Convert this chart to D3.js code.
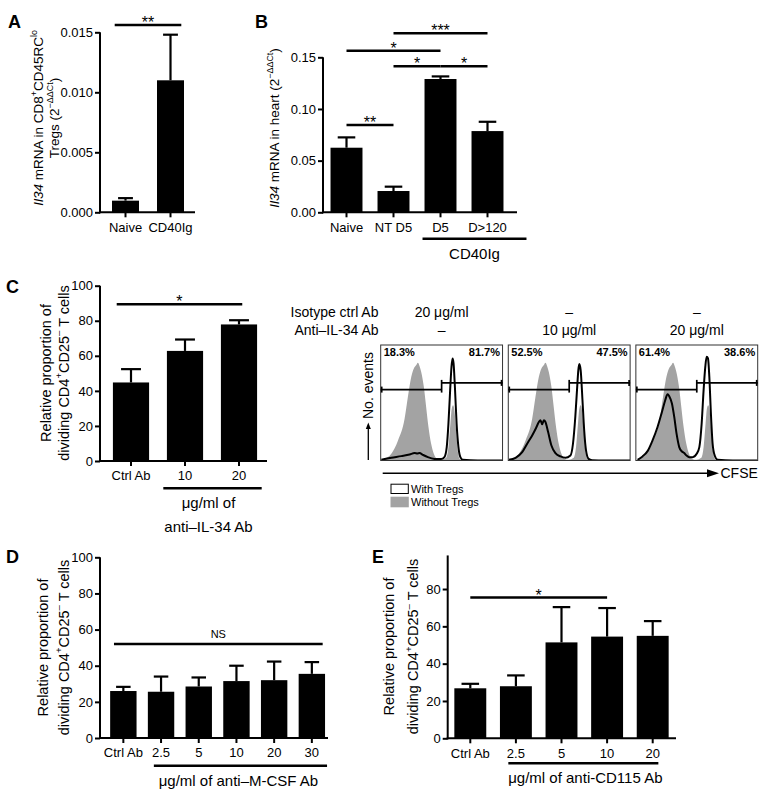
<!DOCTYPE html>
<html><head><meta charset="utf-8">
<script src="https://cdn.jsdelivr.net/npm/d3@7"></script>
<style>
html,body{margin:0;padding:0;background:#fff;}
svg{display:block;font-family:"Liberation Sans",Arial,Helvetica,sans-serif;}
</style></head><body>
<svg id="fig" width="772" height="805"></svg>
<script>
// ================= DATA =================
// Panel A
const aCategories = ["Naive", "CD40Ig"];
const aValues = [0.00097, 0.0110];
const aErrors = [0.00021, 0.0038];
const aTicks = [0, 0.005, 0.010, 0.015];
const aSig = [{from: "Naive", to: "CD40Ig", level: 0.0156, label: "**"}];

// Panel B
const bCategories = ["Naive", "NT D5", "D5", "D>120"];
const bValues = [0.0625, 0.0206, 0.129, 0.0786];
const bErrors = [0.0100, 0.0042, 0.0025, 0.0090];
const bTicks = [0, 0.05, 0.10, 0.15];
const bSig = [
  {from: "NT D5", to: "D>120", level: 0.1732, label: "***"},
  {from: "Naive", to: "D5", level: 0.1564, label: "*"},
  {from: "NT D5", to: "D5", level: 0.1413, label: "*"},
  {from: "D5", to: "D>120", level: 0.1413, label: "*"},
  {from: "Naive", to: "NT D5", level: 0.0845, label: "**"}
];
const bGroup = {from: "D5", to: "D>120", lines: ["CD40Ig"]};

// Panel C (bars)
const cCategories = ["Ctrl Ab", "10", "20"];
const cValues = [44.8, 62.8, 77.9];
const cErrors = [7.6, 6.5, 2.4];
const cTicks = [0, 20, 40, 60, 80, 100];
const cSig = [{from: "Ctrl Ab", to: "20", level: 89.4, label: "*"}];
const cGroup = {from: "10", to: "20", lines: ["\u03bcg/ml of", "anti\u2013IL-34 Ab"]};

// Panel C (flow histograms) — CFSE channel (0-100) vs. relative no. of events (0-100)
const isotypeRow = ["20 \u03bcg/ml", "\u2013", "\u2013"];
const antiIL34Row = ["\u2013", "10 \u03bcg/ml", "20 \u03bcg/ml"];
const pctDivided = ["18.3%", "52.5%", "61.4%"];
const pctUndivided = ["81.7%", "47.5%", "38.6%"];
const withoutTregs = [[0,0],[3.3,1.4],[8.7,5.8],[14.2,17.4],[19.6,36.2],[22.3,55],[25.1,72.5],[27.2,79.7],[29.2,82.6],[30.5,84.6],[31.9,81.7],[33.2,76.8],[35.4,63.8],[37.3,46.4],[39.2,29],[41.4,14.5],[43.6,5.8],[46.3,1.4],[49.6,0.6],[53.7,2.3],[55.6,11.6],[57.2,31.9],[58.3,44.9],[59.4,47.8],[60.5,43.5],[61.9,26.1],[63.2,8.7],[64.9,1.4],[67.3,0],[100,0]];
const withTregsCtrl = [[0.5,0.6],[8.7,2.3],[16.9,3.8],[23.7,5.2],[27.8,6.4],[30,6.1],[31.9,6.4],[34.6,4.9],[38.7,2.9],[44.1,1.4],[49.6,1.2],[52.3,2.9],[54.2,11.6],[55.6,31.9],[57,60.9],[58.1,81.2],[59,88.4],[59.8,84.1],[60.9,63.8],[62.3,31.9],[63.8,11.6],[65.4,2.9],[67.3,0.6],[79.6,0],[100,0]];
const withTregsAnti10 = [[0.5,0.6],[6,2.3],[11.4,7.2],[15.5,14.5],[19.6,21.7],[22.9,28.4],[25.1,33.3],[26.4,34.8],[27.8,31.3],[29.2,34.8],[30.5,33.3],[32.7,24.6],[35.4,13],[38.7,6.4],[42.8,3.5],[46.9,2.3],[51,4.3],[53.1,14.5],[55,37.7],[56.4,60.9],[57.5,78.3],[58.3,83.5],[59.4,78.3],[60.9,52.2],[62.3,26.1],[63.8,8.7],[65.9,1.4],[68.7,0.3],[79.6,0],[100,0]];
const withTregsAnti20 = [[1.4,0.6],[5.5,3.5],[9.6,8.1],[13.7,17.4],[17.8,29],[21.4,42],[24.1,52.2],[26,57.4],[27.4,55.7],[29.6,49.3],[31.5,37.7],[33.4,23.2],[35.6,11.6],[37.8,7.8],[39.7,6.4],[41.6,4.3],[43.8,2.9],[46.6,2.9],[49.9,5.8],[52.1,11.6],[54,31.9],[55.6,60.9],[57,81.2],[58.1,89.9],[59.2,88.4],[60.3,72.5],[61.6,40.6],[63,14.5],[64.7,4.3],[67.1,0.6],[79.5,0],[100,0]];
const withTregsSets = [withTregsCtrl, withTregsAnti10, withTregsAnti20];

// Panel D
const dCategories = ["Ctrl Ab", "2.5", "5", "10", "20", "30"];
const dValues = [26.0, 25.6, 28.5, 31.5, 32.0, 35.5];
const dErrors = [2.3, 8.4, 5.0, 8.5, 10.3, 6.5];
const dTicks = [0, 20, 40, 60, 80, 100];
const dSig = [{from: "Ctrl Ab", to: "30", level: 52, label: "NS"}];
const dGroup = {from: "2.5", to: "30", lines: ["\u03bcg/ml of anti\u2013M-CSF Ab"]};

// Panel E
const eCategories = ["Ctrl Ab", "2.5", "5", "10", "20"];
const eValues = [26.8, 27.9, 51.4, 54.5, 54.9];
const eErrors = [2.4, 5.8, 18.9, 15.3, 7.9];
const eTicks = [0, 20, 40, 60, 80];
const eSig = [{from: "Ctrl Ab", to: "10", level: 75.4, label: "*"}];
const eGroup = {from: "2.5", to: "20", lines: ["\u03bcg/ml of anti-CD115 Ab"]};

// ================= DRAWING =================
const svg = d3.select("#fig");
const GRAY = "#a3a3a3";

function rich(textSel, segs, size) {
  let cur = 0;
  segs.forEach(([t, st]) => {
    st = st || "";
    const sup = st.includes("s");
    const target = sup ? -0.42 * size : 0;
    const ts = textSel.append("tspan").text(t).attr("dy", target - cur);
    cur = target;
    if (sup) ts.attr("font-size", size * 0.66);
    if (st.includes("i")) ts.attr("font-style", "italic");
  });
}

function panelLetter(t, x, y) {
  svg.append("text").attr("x", x).attr("y", y).attr("font-size", 18).attr("font-weight", "bold").text(t);
}

function barPanel(p) {
  const g = svg.append("g");
  const x = d3.scaleBand().domain(p.cats).range(p.xRange).paddingInner(p.pi).paddingOuter(p.po);
  const y = d3.scaleLinear().domain(p.yDomain).range(p.yRange);
  const bw = x.bandwidth();
  const cx = c => x(c) + bw / 2;

  g.selectAll("rect.bar").data(p.cats).join("rect").attr("class", "bar")
    .attr("x", d => x(d)).attr("width", bw)
    .attr("y", (d, i) => y(p.values[i])).attr("height", (d, i) => y(0) - y(p.values[i]))
    .attr("fill", "#000");

  const capW = bw * 0.55;
  p.cats.forEach((c, i) => {
    const yt = y(p.values[i] + p.errors[i]);
    g.append("line").attr("x1", cx(c)).attr("x2", cx(c)).attr("y1", y(p.values[i])).attr("y2", yt)
      .attr("stroke", "#000").attr("stroke-width", 2.2);
    g.append("line").attr("x1", cx(c) - capW / 2).attr("x2", cx(c) + capW / 2).attr("y1", yt).attr("y2", yt)
      .attr("stroke", "#000").attr("stroke-width", 2.2);
  });

  // y axis
  const ya = g.append("g").attr("transform", `translate(${p.axisX},0)`)
    .call(d3.axisLeft(y).tickValues(p.ticks).tickFormat(p.fmt).tickSize(5).tickPadding(2).tickSizeOuter(0));
  ya.select(".domain").remove();
  ya.attr("font-family", null).attr("font-size", 13);
  ya.selectAll(".tick line").attr("stroke-width", 2);
  ya.selectAll(".tick text").attr("fill", "#000");
  g.append("line").attr("x1", p.axisX).attr("x2", p.axisX).attr("y1", y(0) + 1).attr("y2", y(p.axisTop))
    .attr("stroke", "#000").attr("stroke-width", 2);

  // x axis
  const xa = g.append("g").attr("transform", `translate(0,${y(0)})`)
    .call(d3.axisBottom(x).tickSize(5).tickPadding(5).tickSizeOuter(0));
  xa.select(".domain").remove();
  xa.attr("font-family", null).attr("font-size", 13);
  xa.selectAll(".tick line").attr("stroke-width", 2);
  xa.selectAll(".tick text").attr("fill", "#000");
  g.append("line").attr("x1", p.axisX - 1).attr("x2", p.axisEnd).attr("y1", y(0)).attr("y2", y(0))
    .attr("stroke", "#000").attr("stroke-width", 2);

  // significance
  p.sig.forEach(s => {
    const x1 = cx(s.from) - p.extL * bw / 2, x2 = cx(s.to) + p.extR * bw / 2, yy = y(s.level);
    g.append("line").attr("x1", x1).attr("x2", x2).attr("y1", yy).attr("y2", yy)
      .attr("stroke", "#000").attr("stroke-width", 2.5);
    const isNS = s.label === "NS";
    g.append("text").attr("x", (x1 + x2) / 2).attr("y", isNS ? yy - 6 : yy + 3)
      .attr("text-anchor", "middle").attr("font-size", isNS ? 11 : 16).text(s.label);
  });

  // group bracket
  if (p.group) {
    const gx1 = x(p.group.from) + p.gOffL, gx2 = x(p.group.to) + bw + p.gOffR, gy = y(0) + p.gDy;
    g.append("line").attr("x1", gx1).attr("x2", gx2).attr("y1", gy).attr("y2", gy)
      .attr("stroke", "#000").attr("stroke-width", 2.5);
    p.group.lines.forEach((t, i) => {
      g.append("text").attr("x", (gx1 + gx2) / 2 + (p.gTx || 0)).attr("y", gy + 20 + i * 23.5)
        .attr("text-anchor", "middle").attr("font-size", 15).text(t);
    });
  }

  // y label
  p.yLabel.lines.forEach(l => {
    const t = g.append("text").attr("transform", `translate(${l.x},${p.yLabel.cy}) rotate(-90)`)
      .attr("text-anchor", "middle").attr("font-size", p.yLabel.size);
    rich(t, l.segs, p.yLabel.size);
  });
}

const relLine1 = [["Relative proportion of"]];
const relLine2 = [["dividing CD4"], ["+", "s"], ["CD25"], ["\u2013", "s"], [" T cells"]];

barPanel({cats: aCategories, values: aValues, errors: aErrors, ticks: aTicks, fmt: d3.format(".3f"),
  yDomain: [0, 0.015], yRange: [212.3, 32.3], axisTop: 0.015, axisX: 100, axisEnd: 195,
  xRange: [103, 193], pi: 0.4, po: 0.2, sig: aSig, extL: 0.8, extR: 0.8,
  yLabel: {cy: 118, size: 13.5, lines: [
    {x: 43, segs: [["Il34", "i"], [" mRNA in CD8"], ["+", "s"], ["CD45RC"], ["lo", "s"]]},
    {x: 59, segs: [["Tregs (2"], ["\u2212\u0394\u0394Ct", "s"], [")"]]}]}});

barPanel({cats: bCategories, values: bValues, errors: bErrors, ticks: bTicks, fmt: d3.format(".2f"),
  yDomain: [0, 0.15], yRange: [212.3, 57.3], axisTop: 0.15, axisX: 323, axisEnd: 517,
  xRange: [323, 511], pi: 0.32, po: 0.16, sig: bSig, extL: 0, extR: 0,
  group: bGroup, gOffL: -2, gOffR: 23, gDy: 26.4,
  yLabel: {cy: 128, size: 13.5, lines: [
    {x: 278.5, segs: [["Il34", "i"], [" mRNA in heart (2"], ["\u2212\u0394\u0394Ct", "s"], [")"]]}]}});

barPanel({cats: cCategories, values: cValues, errors: cErrors, ticks: cTicks, fmt: d3.format("d"),
  yDomain: [0, 100], yRange: [461, 285.7], axisTop: 100, axisX: 100, axisEnd: 267,
  xRange: [104, 266], pi: 0.33, po: 0.165, sig: cSig, extL: 0.79, extR: 0.18,
  group: cGroup, gOffL: -3.6, gOffR: 4.6, gDy: 27.3, gTx: -4,
  yLabel: {cy: 373, size: 14.5, lines: [{x: 50.5, segs: relLine1}, {x: 68.5, segs: relLine2}]}});

barPanel({cats: dCategories, values: dValues, errors: dErrors, ticks: dTicks, fmt: d3.format("d"),
  yDomain: [0, 100], yRange: [738, 557.3], axisTop: 100, axisX: 100, axisEnd: 328,
  xRange: [104.5, 330.7], pi: 0.3, po: 0.15, sig: dSig, extL: 0.71, extR: 0.82,
  group: dGroup, gOffL: 6, gOffR: 2, gDy: 27.7, gTx: -2,
  yLabel: {cy: 647.5, size: 14.5, lines: [{x: 47.5, segs: relLine1}, {x: 68.5, segs: relLine2}]}});

barPanel({cats: eCategories, values: eValues, errors: eErrors, ticks: eTicks, fmt: d3.format("d"),
  yDomain: [0, 100], yRange: [738.3, 551.7], axisTop: 98, axisX: 447.7, axisEnd: 676,
  xRange: [447.5, 675.5], pi: 0.3, po: 0.15, sig: eSig, extL: 0, extR: 0,
  group: eGroup, gOffL: 8.4, gOffR: -10.3, gDy: 25, gTx: 2,
  yLabel: {cy: 646.5, size: 14.5, lines: [{x: 394, segs: relLine1}, {x: 418, segs: relLine2}]}});

panelLetter("A", 8, 28);
panelLetter("B", 255, 28);
panelLetter("C", 6, 293);
panelLetter("D", 6, 563);
panelLetter("E", 372, 563);

// ---------- Flow histograms ----------
(function flow() {
  const col = d3.scaleBand().domain(d3.range(3)).range([380.7, 757.7]).paddingInner(0.045);
  const top = 345, bottom = 460.5;
  const fy = d3.scaleLinear().domain([0, 100]).range([bottom, top]);
  const w = col.bandwidth();
  const defs = svg.append("defs");

  svg.append("text").attr("x", 378.5).attr("y", 317).attr("text-anchor", "end").attr("font-size", 14).text("Isotype ctrl Ab");
  svg.append("text").attr("x", 378.5).attr("y", 335).attr("text-anchor", "end").attr("font-size", 14).text("Anti\u2013IL-34 Ab");

  withTregsSets.forEach((data, i) => {
    const x0 = col(i);
    const fx = d3.scaleLinear().domain([0, 100]).range([x0, x0 + w]);
    const cid = "clip" + i;
    defs.append("clipPath").attr("id", cid).append("rect").attr("x", x0).attr("y", top).attr("width", w).attr("height", bottom - top);
    const g = svg.append("g");
    const inner = g.append("g").attr("clip-path", `url(#${cid})`);
    inner.append("path").datum(withoutTregs)
      .attr("d", d3.area().x(d => fx(d[0])).y0(fy(0)).y1(d => fy(d[1])).curve(d3.curveMonotoneX))
      .attr("fill", GRAY);
    inner.append("path").datum(data)
      .attr("d", d3.line().x(d => fx(d[0])).y(d => fy(d[1])).curve(d3.curveMonotoneX))
      .attr("fill", "none").attr("stroke", "#000").attr("stroke-width", 2).attr("stroke-linejoin", "round");
    g.append("rect").attr("x", x0).attr("y", top).attr("width", w).attr("height", bottom - top)
      .attr("fill", "none").attr("stroke", "#333").attr("stroke-width", 1);
    // gate
    const gl = 61.4, gr = 67.2, cut = 50;
    const ln = (x1, y1, x2, y2) => g.append("line").attr("x1", x1).attr("y1", y1).attr("x2", x2).attr("y2", y2)
      .attr("stroke", "#000").attr("stroke-width", 1.7);
    ln(fx(0), fy(gl), fx(cut), fy(gl));
    ln(fx(cut), fy(gr), fx(100), fy(gr));
    ln(fx(0) + 1, fy(gl - 2.6), fx(0) + 1, fy(gl + 2.6));
    ln(fx(cut), fy(gl - 2.6), fx(cut), fy(gr + 2.6));
    ln(fx(100) - 1, fy(gr - 2.6), fx(100) - 1, fy(gr + 2.6));
    // percentages
    g.append("text").attr("x", x0 + 3).attr("y", top + 10.5).attr("font-size", 11).attr("font-weight", "bold").text(pctDivided[i]);
    g.append("text").attr("x", x0 + w - 2.5).attr("y", top + 10.5).attr("text-anchor", "end").attr("font-size", 11).attr("font-weight", "bold").text(pctUndivided[i]);
    // headers
    svg.append("text").attr("x", x0 + w / 2).attr("y", 317).attr("text-anchor", "middle").attr("font-size", 14).text(isotypeRow[i]);
    svg.append("text").attr("x", x0 + w / 2).attr("y", 335).attr("text-anchor", "middle").attr("font-size", 14).text(antiIL34Row[i]);
  });

  // CFSE arrow
  const ay = 473.3;
  svg.append("line").attr("x1", 382.7).attr("x2", 709).attr("y1", ay).attr("y2", ay).attr("stroke", "#000").attr("stroke-width", 1.6);
  svg.append("path").attr("d", `M707,${ay - 4}L719,${ay}L707,${ay + 4}Z`).attr("fill", "#000");
  svg.append("text").attr("x", 720.5).attr("y", ay + 5).attr("font-size", 14).text("CFSE");

  // No. events
  svg.append("text").attr("transform", "translate(373,419) rotate(-90)").attr("font-size", 14).text("No. events");
  svg.append("line").attr("x1", 368.3).attr("x2", 368.3).attr("y1", 460).attr("y2", 428).attr("stroke", "#000").attr("stroke-width", 1.3);
  svg.append("path").attr("d", "M365.8,429L368.3,422.5L370.8,429Z").attr("fill", "#000");

  // legend
  svg.append("rect").attr("x", 391).attr("y", 484.2).attr("width", 17.3).attr("height", 9.3).attr("fill", "#fff").attr("stroke", "#000").attr("stroke-width", 1);
  svg.append("rect").attr("x", 390.5).attr("y", 496.7).attr("width", 18.3).attr("height", 10.6).attr("fill", GRAY);
  svg.append("text").attr("x", 411).attr("y", 492.8).attr("font-size", 11).text("With Tregs");
  svg.append("text").attr("x", 411).attr("y", 506).attr("font-size", 11).text("Without Tregs");
})();
</script>
</body></html>
